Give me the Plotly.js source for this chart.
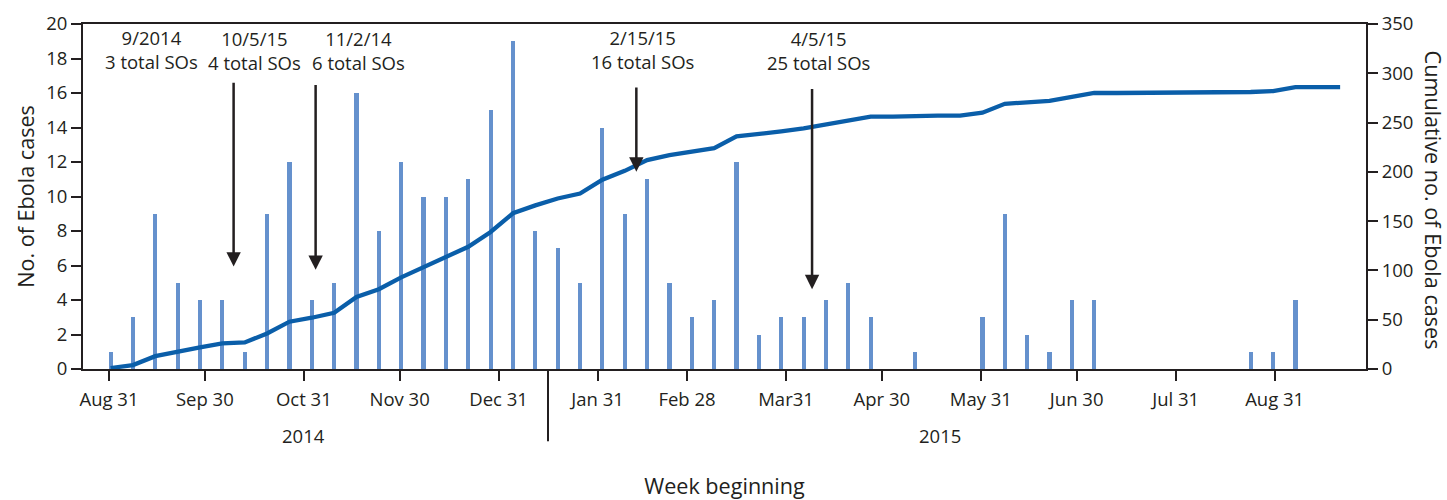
<!DOCTYPE html>
<html>
<head>
<meta charset="utf-8">
<script src="https://cdn.plot.ly/plotly-3.0.1.min.js"></script>
<style>html,body{margin:0;padding:0;background:#fff;}#chart{width:1447px;height:500px;}</style>
</head>
<body>
<div id="chart"></div>
<script>
// Week beginning (Sunday)
const weeks = [
  '2014-08-31','2014-09-07','2014-09-14','2014-09-21','2014-09-28','2014-10-05','2014-10-12','2014-10-19','2014-10-26',
  '2014-11-02','2014-11-09','2014-11-16','2014-11-23','2014-11-30','2014-12-07','2014-12-14','2014-12-21','2014-12-28',
  '2015-01-04','2015-01-11','2015-01-18','2015-01-25','2015-02-01','2015-02-08','2015-02-15','2015-02-22',
  '2015-03-01','2015-03-08','2015-03-15','2015-03-22','2015-03-29','2015-04-05','2015-04-12','2015-04-19','2015-04-26',
  '2015-05-03','2015-05-10','2015-05-17','2015-05-24','2015-05-31','2015-06-07','2015-06-14','2015-06-21','2015-06-28',
  '2015-07-05','2015-07-12','2015-07-19','2015-07-26','2015-08-02','2015-08-09','2015-08-16','2015-08-23','2015-08-30',
  '2015-09-06','2015-09-13','2015-09-20'
];
// Weekly number of Ebola cases
const weeklyCases = [
  1,3,9,5,4,4,1,9,12,
  4,5,16,8,12,10,10,11,15,
  19,8,7,5,14,9,11,5,
  3,4,12,2,3,3,4,5,3,
  0,1,0,0,3,9,2,1,4,
  4,0,0,0,0,0,0,1,1,
  4,0,0
];
// Cumulative number of Ebola cases
const cumulativeCases = [
  1,4,13,18,22,26,27,36,48,
  52,57,73,81,93,103,113,124,139,
  158,166,173,178,192,201,212,217,
  220,224,236,238,241,244,248,253,256,
  256,257,257,257,260,269,271,272,276,
  280,280,280,280,280,280,280,281,282,
  286,286,286
];
// x-axis ticks
const tickDates = ['2014-08-31','2014-09-30','2014-10-31','2014-11-30','2014-12-31','2015-01-31','2015-02-28',
  '2015-03-31','2015-04-30','2015-05-31','2015-06-30','2015-07-31','2015-08-31'];
const tickLabels = ['Aug 31','Sep 30','Oct 31','Nov 30','Dec 31','Jan 31','Feb 28','Mar31','Apr 30','May 31','Jun 30','Jul 31','Aug 31'];
// Year labels
const years = ['2014','2015'];
const yearCenters = ['2014-10-30 22:00','2015-05-18 07:00'];
const yearDivider = '2015-01-15 11:00';
// Single-order (SO) annotations
const soDates = ['9/2014','10/5/15','11/2/14','2/15/15','4/5/15'];
const soTotals = ['3 total SOs','4 total SOs','6 total SOs','16 total SOs','25 total SOs'];
const soLabelX = ['2014-09-13 10:00','2014-10-15 11:00','2014-11-17 01:00','2015-02-14 01:30','2015-04-10 02:00'];
const soLabelY = [18.55,18.45,18.45,18.55,18.45];
// Arrows (for the four dated events)
const arrowX = ['2014-10-09 00:30','2014-11-03 16:48','2015-02-12 03:00','2015-04-08 03:30'];
const arrowTip = [5.94,5.75,11.44,4.63];
const arrowTail = [16.68,16.55,16.41,16.32];

const FONT = 'Open Sans, Noto Sans, sans-serif';
const TXT = '#231f20';
const xs = weeks.map(d => d + ' 12:00');

const traces = [
  {type:'bar', x: xs, y: weeklyCases, width: 1.3*86400000, marker:{color:'#6591cd', line:{width:0}},
   yaxis:'y', name:'Weekly cases', hoverinfo:'x+y'},
  {type:'scatter', mode:'lines', x: xs, y: cumulativeCases, yaxis:'y2', line:{color:'#0a5ea9', width:4.3, shape:'linear'},
   name:'Cumulative cases'}
];

const annotations = [];
for (let i = 0; i < soDates.length; i++) {
  annotations.push({xref:'x', yref:'y', x: soLabelX[i], y: soLabelY[i], text: soDates[i] + '<br>' + soTotals[i],
    showarrow:false, xanchor:'center', yanchor:'middle', align:'center', font:{family:FONT, size:18.5, color:TXT}});
}
for (let i = 0; i < arrowX.length; i++) {
  annotations.push({xref:'x', yref:'y', x: arrowX[i], y: arrowTip[i], axref:'x', ayref:'y', ax: arrowX[i], ay: arrowTail[i],
    text:'', showarrow:true, arrowhead:2, arrowsize:1.15, arrowwidth:2.5, arrowcolor:TXT, standoff:0});
}
for (let i = 0; i < years.length; i++) {
  annotations.push({xref:'x', yref:'paper', x: yearCenters[i], y: -0.194, text: years[i], showarrow:false,
    xanchor:'center', yanchor:'middle', font:{family:FONT, size:18.5, color:TXT}});
}
annotations.push({xref:'paper', yref:'paper', x: 1.0525, y: 0.49, text:'Cumulative no. of Ebola cases', textangle:90,
  showarrow:false, xanchor:'center', yanchor:'middle', font:{family:FONT, size:21.6, color:TXT}});

const layout = {
  width:1447, height:500,
  margin:{l:82.7, r:81.3, t:23.7, b:130.7, pad:0},
  paper_bgcolor:'#fff', plot_bgcolor:'#fff',
  showlegend:false,
  font:{family:FONT, size:18.5, color:TXT},
  bargap:0,
  xaxis:{type:'date', range:['2014-08-22 20:38','2015-09-28 14:24'], tickvals: tickDates, ticktext: tickLabels,
    ticks:'outside', ticklen:10, tickwidth:2, tickcolor:TXT, showline:true, linewidth:2, linecolor:TXT, mirror:true,
    showgrid:false, zeroline:false, tickfont:{family:FONT, size:18.5, color:TXT}, ticklabelstandoff:3,
    title:{text:'Week beginning', font:{family:FONT, size:21.6, color:TXT}, standoff:72}},
  yaxis:{range:[0,20], dtick:2, tick0:0, ticks:'outside', ticklen:10, tickwidth:2, tickcolor:TXT,
    showline:true, linewidth:2, linecolor:TXT, showgrid:false, zeroline:false,
    tickfont:{family:FONT, size:18.5, color:TXT},
    title:{text:'No. of Ebola cases', font:{family:FONT, size:21.6, color:TXT}, standoff:6}},
  yaxis2:{range:[0,350], dtick:50, tick0:0, overlaying:'y', side:'right', ticks:'outside', ticklen:10, tickwidth:2,
    tickcolor:TXT, showline:true, linewidth:2, linecolor:TXT, showgrid:false, zeroline:false,
    tickfont:{family:FONT, size:18.5, color:TXT}},
  shapes:[{type:'line', xref:'x', yref:'paper', x0: yearDivider, x1: yearDivider, y0:0, y1:-0.2095,
    line:{color:TXT, width:2}}],
  annotations: annotations
};

Plotly.newPlot('chart', traces, layout, {displayModeBar:false, staticPlot:true});
</script>
</body>
</html>
